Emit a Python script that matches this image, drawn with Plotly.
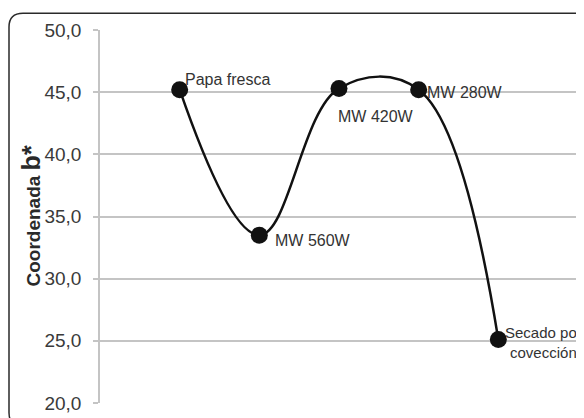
import plotly.graph_objects as go

categories = ["Papa fresca", "MW 560W", "MW 420W", "MW 280W", "Secado por<br>covección"]
b_values = [45.2, 33.5, 45.3, 45.2, 25.1]
tick_vals = [20, 25, 30, 35, 40, 45, 50]
tick_text = ["20,0", "25,0", "30,0", "35,0", "40,0", "45,0", "50,0"]

x_pos = list(range(1, len(categories) + 1))

fig = go.Figure()
fig.add_trace(go.Scatter(
    x=x_pos, y=b_values, mode="lines+markers",
    line=dict(color="#111111", width=2.5, shape="spline", smoothing=1.1),
    marker=dict(color="#111111", size=17),
    cliponaxis=False, showlegend=False, hoverinfo="skip",
))

# label offsets (pixels) and sizes for each category
shifts = [(3, 10), (14, -5), (-3, -28), (6, -3), (5, -3)]
sizes = [16, 16, 16, 16, 15]
for xv, yv, txt, (dx, dy), fs in zip(x_pos, b_values, categories, shifts, sizes):
    fig.add_annotation(
        x=xv, y=yv, text=txt, showarrow=False, xanchor="left", yanchor="middle",
        xshift=dx, yshift=dy, align="center",
        font=dict(family="Liberation Sans, Arial", size=fs, color="#333333"),
    )

# page body has an 8px margin; figure coordinates are screen - 8
OFF = 8
W, H = 584, 418
L, R, T, B = 100 - OFF, 14, 29 - OFF, 19
pw, ph = W - L - R, H - T - B

def px(xs):
    return (xs - OFF - L) / pw

def py(ys):
    return (H - B - (ys - OFF)) / ph

# rounded border
x0, x1, y0, y1 = px(9), px(598), py(12), py(431)
rx, ry = 14 / pw, 14 / ph
path = (f"M {x0+rx},{y0} L {x1-rx},{y0} Q {x1},{y0} {x1},{y0-ry} "
        f"L {x1},{y1+ry} Q {x1},{y1} {x1-rx},{y1} L {x0+rx},{y1} "
        f"Q {x0},{y1} {x0},{y1+ry} L {x0},{y0-ry} Q {x0},{y0} {x0+rx},{y0} Z")
fig.add_shape(type="path", path=path, xref="paper", yref="paper",
              line=dict(color="#2a2a2a", width=1.5), fillcolor="rgba(0,0,0,0)")

fig.add_annotation(
    x=px(30), y=py(218), xref="paper", yref="paper", showarrow=False,
    textangle=-90, xanchor="center", yanchor="middle",
    text="<b>Coordenada <span style='font-size:25px'>b*</span></b>",
    font=dict(family="Liberation Sans, Arial", size=19, color="#2a2a2a"),
)

fig.update_layout(
    width=W, height=H,
    margin=dict(l=L, r=R, t=T, b=B),
    paper_bgcolor="white", plot_bgcolor="white",
    xaxis=dict(range=[0, 6], showticklabels=False, showgrid=False, zeroline=False,
               showline=False, ticks=""),
    yaxis=dict(range=[20, 50], tickvals=tick_vals, ticktext=tick_text,
               showgrid=True, gridcolor="#c4c4c4", gridwidth=1.5,
               showline=True, linecolor="#c4c4c4", linewidth=1.5,
               ticks="outside", ticklen=5, tickcolor="#c4c4c4", tickwidth=1.5,
               ticklabelstandoff=8, zeroline=False,
               tickfont=dict(family="Liberation Sans, Arial", size=19, color="#3a3a3a")),
)

fig.write_html("out.html")
